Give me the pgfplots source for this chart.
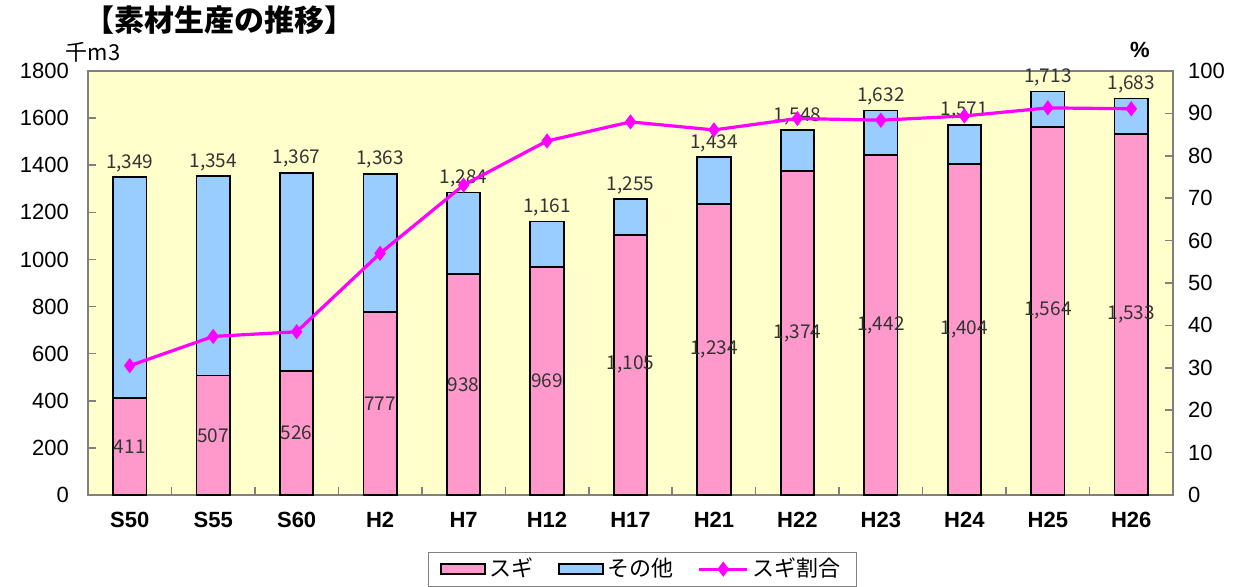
\documentclass[border=0pt]{standalone}
\usepackage{pgfplots}
\pgfplotsset{compat=1.18}
\usepackage{pgfplotstable}
\usepackage{fontspec}
\setmainfont{Liberation Sans}
\newfontfamily\jp{Noto Sans CJK JP}

\definecolor{sugi}{HTML}{FF99CC}
\definecolor{other}{HTML}{99CCFF}
\definecolor{bgyel}{HTML}{FFFFCC}
\definecolor{ratio}{HTML}{FF00FF}
\definecolor{frame}{HTML}{808080}

% 千m3 / %
\pgfplotstableread{
x  sugi other total pct
0  411  938   1349  30.5
1  507  847   1354  37.4
2  526  841   1367  38.5
3  777  586   1363  57.0
4  938  346   1284  73.1
5  969  192   1161  83.5
6  1105 150   1255  88.0
7  1234 200   1434  86.1
8  1374 174   1548  88.8
9  1442 190   1632  88.4
10 1404 167   1571  89.4
11 1564 149   1713  91.3
12 1533 150   1683  91.1
}\production

\tikzset{lbl/.style={font=\jp\fontsize{9.5}{11}\selectfont, text=black!80}}
\pgfplotsset{
  base/.style={
    scale only axis, width=542.5pt, height=212pt,
    at={(0,0)}, anchor=south west,
    xmin=-0.5, xmax=12.5,
    /pgf/number format/assume math mode=true,
    /pgf/number format/1000 sep={},
    tick label style={font=\fontsize{11}{13}\selectfont},
  },
  barleg/.style={legend image code/.code={\draw[##1] (0pt,-2.5pt) rectangle (22pt,2.5pt);}},
  lineleg/.style={legend image code/.code={\draw[##1, mark repeat=2, mark phase=2]
    plot coordinates {(0pt,0pt) (12pt,0pt) (24pt,0pt)};}},
}

\begin{document}
\begin{tikzpicture}
\useasboundingbox (-44pt,-45.5pt) rectangle (577pt,247.5pt);

\begin{axis}[base,
  ymin=0, ymax=1800, ytick={0,200,...,1800},
  ybar stacked, bar width=0.4,
  axis background/.style={fill=bgyel},
  axis line style={frame, line width=0.8pt},
  tick pos=left,
  xtick={-0.5,0.5,...,12.5},
  x tick label as interval,
  xticklabels={S50,S55,S60,H2,H7,H12,H17,H21,H22,H23,H24,H25,H26},
  xticklabel style={font=\bfseries\fontsize{11}{13}\selectfont, yshift=-5pt},
  yticklabel style={xshift=-6pt},
  major tick length=4pt,
  tick style={frame, line width=0.8pt},
]
\addplot[fill=sugi, draw=black, line width=0.9pt] table[x=x, y=sugi] {\production};
\addplot[fill=other, draw=black, line width=0.9pt] table[x=x, y=other] {\production};
\end{axis}

% labels: totals above the bars, スギ in the middle of the pink part
\begin{axis}[base, hide axis, ymin=0, ymax=1800]
\addplot[draw=none, mark=none, point meta=explicit,
  nodes near coords={\pgfmathprintnumber[1000 sep={,}]{\pgfplotspointmeta}},
  nodes near coords style={lbl, anchor=center}]
  table[x=x, y expr=\thisrow{sugi}/2, meta=sugi] {\production};
\addplot[draw=none, mark=none, point meta=explicit,
  nodes near coords={\pgfmathprintnumber[1000 sep={,}]{\pgfplotspointmeta}},
  nodes near coords style={lbl, anchor=south, inner sep=2.5pt}]
  table[x=x, y=total, meta=total] {\production};
\end{axis}

\begin{axis}[base,
  ymin=0, ymax=100, ytick={0,10,...,100},
  axis x line=none, axis y line*=right,
  axis line style={frame, line width=0.8pt},
  tick style={frame, line width=0.8pt},
  major tick length=4pt,
  yticklabel style={xshift=4pt},
  legend columns=3,
  legend style={at={(0.511,-0.134)}, anchor=north, draw=frame, fill=white,
    font=\jp\fontsize{11}{13}\selectfont, inner xsep=6pt, inner ysep=1pt,
    /tikz/every even column/.append style={column sep=10pt}},
]
\addlegendimage{fill=sugi, draw=black, line width=0.9pt, barleg}
\addlegendentry{スギ}
\addlegendimage{fill=other, draw=black, line width=0.9pt, barleg}
\addlegendentry{その他}
\addplot[ratio, line width=1.6pt, mark=diamond*, mark size=2.5pt, lineleg]
  table[x=x, y=pct] {\production};
\addlegendentry{スギ割合}
\end{axis}

\node[anchor=west, font=\jp\bfseries\fontsize{15}{17}\selectfont, inner sep=0pt]
  at (-2pt,237.5pt) {【素材生産の推移】};
\node[font=\jp\fontsize{11}{13}\selectfont, inner sep=0pt] at (2.5pt,221.5pt) {千m3};
\node[font=\bfseries\fontsize{11}{13}\selectfont, inner sep=0pt] at (526pt,222.5pt) {\%};
\end{tikzpicture}
\end{document}
